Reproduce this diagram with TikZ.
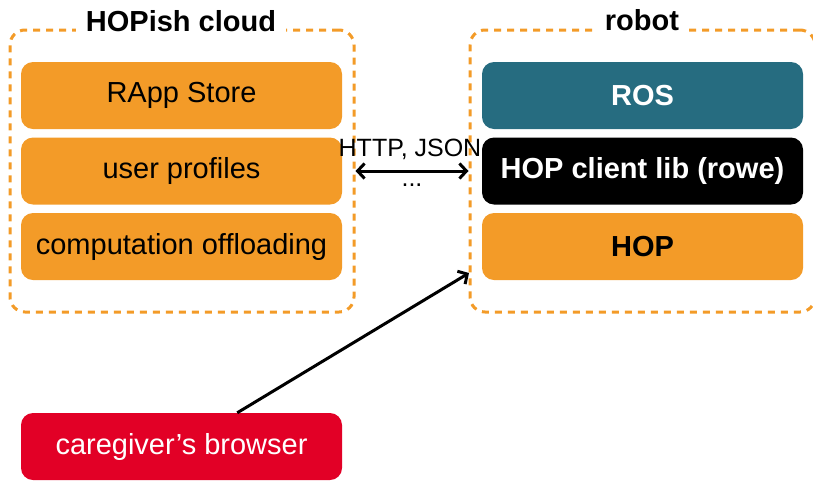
\documentclass[tikz,border=0pt]{standalone}
\usepackage{fontspec}
\setmainfont{Liberation Sans}
\usetikzlibrary{arrows.meta}
\definecolor{hoporange}{RGB}{243,155,40}
\definecolor{rosteal}{RGB}{38,108,128}
\definecolor{carered}{RGB}{226,0,38}
\tikzset{
  block/.style={rounded corners=12pt, minimum width=321pt, minimum height=67pt, inner sep=0pt,
    font=\fontsize{29}{34}\selectfont},
  orangeblock/.style={block, fill=hoporange, text=black},
  groupbox/.style={draw=hoporange, line width=3pt, dash pattern=on 7pt off 6pt, rounded corners=15pt,
    minimum height=282pt, inner sep=0pt},
  grouptitle/.style={fill=white, inner xsep=10pt, inner ysep=4pt, anchor=base,
    font=\fontsize{29}{34}\selectfont\bfseries},
  conn/.style={line width=3pt, black},
}
\begin{document}
\begin{tikzpicture}[x=1pt,y=-1pt]
\useasboundingbox (0,0) rectangle (813,480);
% group boxes
\node[groupbox, minimum width=344pt] (cloud) at (182,171) {};
\node[groupbox, minimum width=345pt] (robot) at (642.5,171) {};
\node[grouptitle] (cloudtitle) at (181,31) {HOPish cloud};
\node[grouptitle] (robottitle) at (642,30) {robot};
% cloud nodes
\node[orangeblock] (rapp) at (181.5,95.5) {RApp Store};
\node[orangeblock] (prof) at (181.5,171) {user profiles};
\node[orangeblock] (comp) at (181.5,246.5) {computation offloading};
% robot nodes
\node[block, fill=rosteal, text=white, font=\fontsize{29}{34}\selectfont\bfseries] (ros) at (642.5,95.5) {ROS};
\node[block, fill=black, text=white, font=\fontsize{29}{34}\selectfont\bfseries] (lib) at (642.5,171) {HOP client lib (rowe)};
\node[orangeblock, font=\fontsize{29}{34}\selectfont\bfseries] (hop) at (642.5,246.5) {HOP};
% browser
\node[block, fill=carered, text=white] (browser) at (181.5,446.5) {caregiver’s browser};
% connectors
\draw[conn, {Straight Barb[length=7pt,width=15pt]}-{Straight Barb[length=7pt,width=15pt]}] (cloud.east) -- (robot.west);
\node[anchor=base, inner sep=0pt, font=\fontsize{25}{30}\selectfont] (proto) at (410,156) {HTTP, JSON};
\node[anchor=base, inner sep=0pt, font=\fontsize{25}{30}\selectfont] (etc) at (412,186) {...};
\coordinate (target) at (469,273);
\draw[conn, -{Straight Barb[length=7pt,width=15pt]}] (browser) -- (target);
\end{tikzpicture}
\end{document}
